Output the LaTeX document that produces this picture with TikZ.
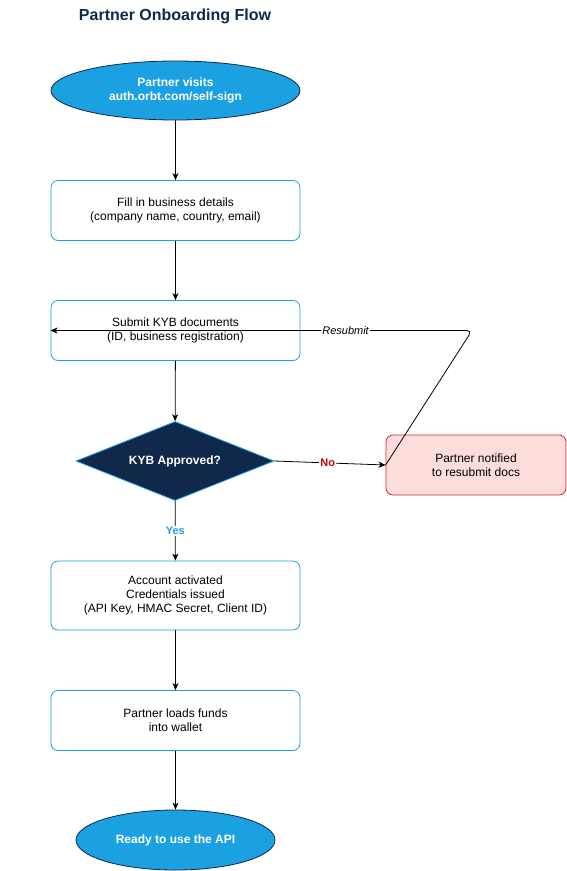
\documentclass[tikz,border=0pt]{standalone}
\usepackage{fontspec}
\setmainfont{Liberation Sans}
\usetikzlibrary{shapes.geometric,arrows.meta}

\definecolor{navy}{HTML}{10294A}
\definecolor{skyblue}{HTML}{1BA1E2}
\definecolor{rejectfill}{HTML}{FDDCDC}
\definecolor{rejectline}{HTML}{D6272D}
\definecolor{nored}{HTML}{CC0000}

\tikzset{
    stepbox/.style={draw=skyblue, fill=white, rounded corners=7pt, line width=0.8pt,
        minimum width=249pt, minimum height=60pt, align=center, inner sep=0pt,
        font=\fontsize{12}{14}\selectfont},
    terminal/.style={ellipse, draw=navy, fill=skyblue, line width=0.8pt,
        minimum width=249pt, minimum height=59pt, align=center, inner sep=0pt,
        text=white, font=\fontsize{12}{14}\selectfont\bfseries},
    decision/.style={diamond, shape aspect=2.5, draw=skyblue, fill=navy, line width=0.8pt,
        minimum width=198pt, minimum height=79pt, inner sep=0pt,
        text=white, font=\fontsize{12}{14}\selectfont\bfseries},
    rejectbox/.style={draw=rejectline, fill=rejectfill, rounded corners=7pt, line width=0.8pt,
        minimum width=180pt, minimum height=60pt, align=center, inner sep=0pt,
        font=\fontsize{12}{14}\selectfont},
    flow/.style={-{Stealth[length=7pt,width=6pt,inset=2pt]}, line width=0.8pt},
    edgelabel/.style={fill=white, inner sep=1pt, font=\fontsize{11}{13}\selectfont}
}

\begin{document}
\begin{tikzpicture}[x=1pt, y=-1pt]

    % --- Frame ---
    \useasboundingbox[fill=white] (0,0) rectangle (566,871);

    % --- Title ---
    \node[text=navy, font=\fontsize{16}{19}\selectfont\bfseries] (title) at (175,16) {Partner Onboarding Flow};

    % --- Main column ---
    \node[terminal] (visit) at (175.5,90.5) {Partner visits\\auth.orbt.com/self-sign};
    \node[stepbox] (details) at (175.5,210.5) {Fill in business details\\(company name, country, email)};
    \node[stepbox] (submit) at (175.5,330.5) {Submit KYB documents\\(ID, business registration)};
    \node[decision] (approved) at (175,461) {KYB Approved?};
    \node[stepbox, minimum height=69pt] (activated) at (175.5,595.5) {Account activated\\Credentials issued\\(API Key, HMAC Secret, Client ID)};
    \node[stepbox] (funds) at (175.5,720.5) {Partner loads funds\\into wallet};
    \node[terminal, minimum width=199pt, minimum height=60pt] (ready) at (175.5,840) {Ready to use the API};

    % --- Rejection branch ---
    \node[rejectbox] (notified) at (476,465) {Partner notified\\to resubmit docs};
    \coordinate (bend) at (472,330.5);

    % --- Connectors ---
    \draw[flow] (visit) -- (details);
    \draw[flow] (details) -- (submit);
    \draw[flow] (submit) -- (approved);
    \draw[flow] (approved) -- node[edgelabel, text=skyblue, font=\fontsize{11}{13}\selectfont\bfseries, pos=0.5] {Yes} (activated);
    \draw[flow] (activated) -- (funds);
    \draw[flow] (funds) -- (ready);
    \draw[flow] (approved.east) -- node[edgelabel, text=nored, font=\fontsize{11}{13}\selectfont\bfseries, pos=0.48] {No} (notified.west);

    % Resubmit loop back to the KYB box
    \draw[flow, rounded corners=5pt] (notified.west) -- (bend)
        -- node[edgelabel, font=\fontsize{11}{13}\selectfont\itshape, pos=0.3] {Resubmit} (submit.west);

\end{tikzpicture}
\end{document}
